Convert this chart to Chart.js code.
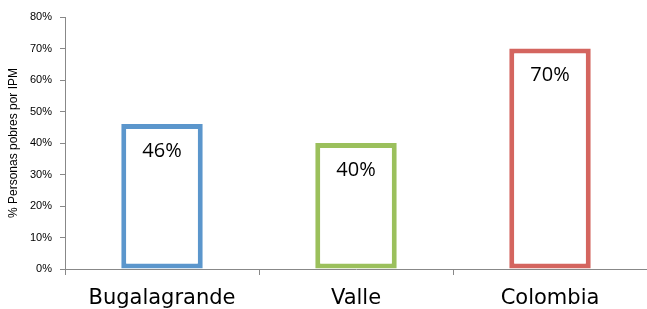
<!DOCTYPE html>
<html lang="es">
<head>
    <meta charset="UTF-8">
    <title>Personas pobres por IPM</title>
    <script src="https://cdn.jsdelivr.net/npm/chart.js"></script>
    <style>
        body { margin: 0; background: #fff; }
        .chart-container { width: 647px; height: 309px; position: relative; }
    </style>
</head>
<body>
    <div class="chart-container">
        <canvas id="ipmChart"></canvas>
    </div>

    <script>
        const categories = ['Bugalagrande', 'Valle', 'Colombia'];
        const values = [46, 40, 70];
        const barColors = ['#5b96cc', '#9bc05c', '#d4655f'];
        const yTicks = [0, 10, 20, 30, 40, 50, 60, 70, 80];

        // writes the value inside each bar, near its top
        const valueLabels = {
            id: 'valueLabels',
            afterDatasetsDraw(chart) {
                const ctx = chart.ctx;
                const meta = chart.getDatasetMeta(0);
                ctx.save();
                ctx.font = '20px "Open Sans", sans-serif';
                ctx.fillStyle = '#000';
                ctx.textAlign = 'center';
                ctx.textBaseline = 'middle';
                meta.data.forEach((bar, i) => {
                    ctx.fillText(values[i] + '%', bar.x, bar.y + 27);
                });
                ctx.restore();
            }
        };

        new Chart(document.getElementById('ipmChart'), {
            type: 'bar',
            data: {
                labels: categories,
                datasets: [{
                    data: values,
                    backgroundColor: '#ffffff',
                    borderColor: barColors,
                    borderWidth: 5,
                    borderSkipped: false,
                    categoryPercentage: 1,
                    barPercentage: 0.42
                }]
            },
            options: {
                responsive: true,
                maintainAspectRatio: false,
                animation: false,
                layout: { padding: { top: 17, right: 0, left: 4 } },
                plugins: {
                    legend: { display: false },
                    tooltip: { enabled: false }
                },
                scales: {
                    x: {
                        grid: {
                            offset: true,
                            drawOnChartArea: false,
                            tickLength: 6,
                            color: '#888'
                        },
                        border: { color: '#888' },
                        ticks: {
                            color: '#000',
                            padding: 11,
                            font: { family: 'DejaVu Sans', size: 21 }
                        },
                        afterFit(scale) { scale.height = 40; }
                    },
                    y: {
                        min: 0,
                        max: 80,
                        afterBuildTicks(scale) {
                            scale.ticks = yTicks.map(v => ({ value: v }));
                        },
                        grid: {
                            drawOnChartArea: false,
                            tickLength: 5,
                            color: '#888'
                        },
                        border: { color: '#888' },
                        ticks: {
                            color: '#000',
                            padding: 8,
                            font: { family: 'Liberation Sans', size: 11 },
                            callback: v => v + '%'
                        },
                        title: {
                            display: true,
                            text: '% Personas pobres por IPM',
                            color: '#000',
                            padding: 2,
                            font: { family: 'Liberation Sans', size: 12 }
                        },
                        afterFit(scale) { scale.width = 61; }
                    }
                }
            },
            plugins: [valueLabels]
        });
    </script>
</body>
</html>
